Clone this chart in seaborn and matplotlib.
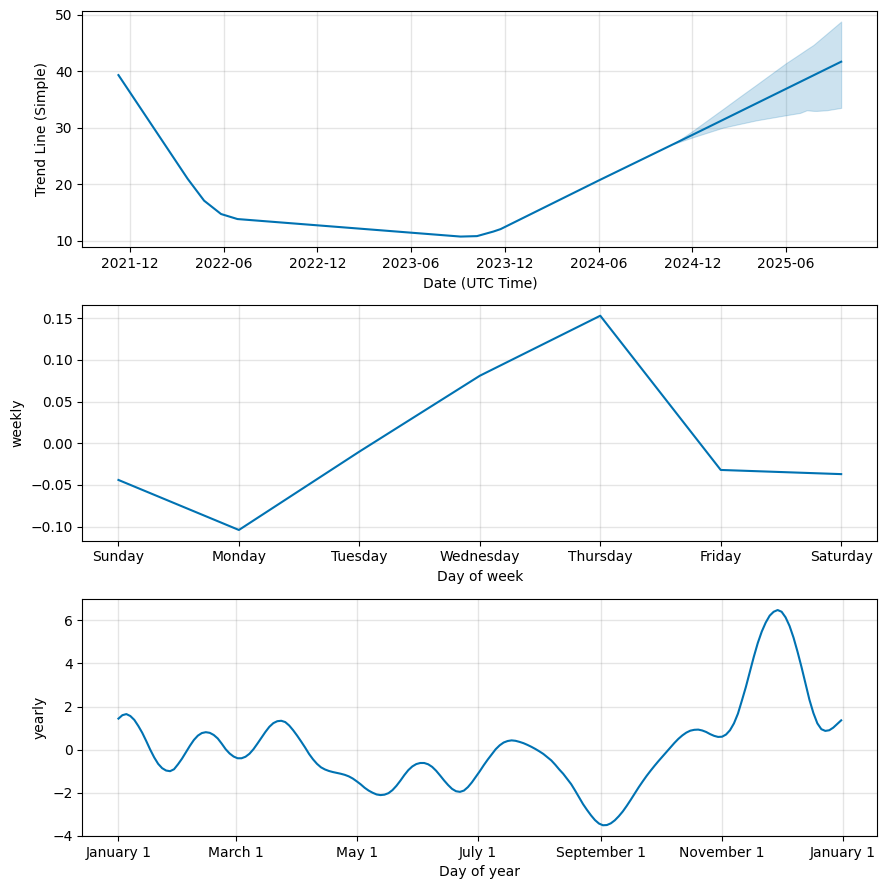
import numpy as np
import pandas as pd
import matplotlib
matplotlib.use("Agg")
import matplotlib.pyplot as plt
import matplotlib.dates as mdates
import seaborn as sns

LINE = "#0072B2"

# ---- Trend panel data ----
trend_dates = ["2021-11-08", "2022-03-23", "2022-04-24", "2022-05-27", "2022-06-28",
               "2023-09-06", "2023-10-08", "2023-11-09", "2023-11-23", "2024-06-01",
               "2024-12-01", "2025-09-17"]
trend_values = [39.33, 20.97, 17.11, 14.75, 13.86,
                10.76, 10.84, 11.65, 12.08, 20.67,
                28.75, 41.70]

band_dates = ["2024-10-25", "2024-12-01", "2025-01-30", "2025-03-04", "2025-04-05",
              "2025-06-01", "2025-06-29", "2025-07-12", "2025-07-25", "2025-07-31",
              "2025-08-20", "2025-09-17"]
band_upper = [27.15, 29.43, 33.36, 35.55, 37.64, 41.41, 43.10, 43.90, 44.67, 45.13, 46.66, 48.81]
band_lower = [27.15, 28.30, 30.04, 30.70, 31.33, 32.22, 32.64, 33.11, 33.00, 32.99, 33.11, 33.53]

# ---- Weekly panel data ----
week_days = ["Sunday", "Monday", "Tuesday", "Wednesday", "Thursday", "Friday", "Saturday"]
weekly_values = [-0.044, -0.104, -0.010, 0.081, 0.153, -0.032, -0.037]

# ---- Yearly panel data (sampled every 2 days from Jan 1) ----
yearly_day = list(range(0, 365, 2))
yearly_values = [
    1.44, 1.60, 1.65, 1.56, 1.38, 1.10, 0.78, 0.40, 0.00, -0.36,
    -0.66, -0.86, -0.97, -1.00, -0.91, -0.68, -0.42, -0.12, 0.18, 0.45,
    0.65, 0.77, 0.81, 0.78, 0.68, 0.52, 0.28, 0.02, -0.18, -0.32,
    -0.40, -0.40, -0.33, -0.19, 0.02, 0.28, 0.55, 0.82, 1.06, 1.23,
    1.32, 1.34, 1.28, 1.12, 0.90, 0.65, 0.38, 0.10, -0.20, -0.45,
    -0.66, -0.82, -0.92, -0.99, -1.04, -1.08, -1.12, -1.17, -1.24, -1.34,
    -1.47, -1.61, -1.77, -1.90, -2.00, -2.08, -2.11, -2.09, -2.02, -1.88,
    -1.68, -1.44, -1.18, -0.95, -0.78, -0.67, -0.62, -0.62, -0.68, -0.80,
    -0.98, -1.20, -1.43, -1.64, -1.82, -1.93, -1.96, -1.90, -1.74, -1.52,
    -1.26, -1.00, -0.72, -0.46, -0.22, 0.02, 0.20, 0.33, 0.40, 0.43,
    0.41, 0.36, 0.30, 0.22, 0.13, 0.03, -0.08, -0.20, -0.35, -0.50,
    -0.70, -0.92, -1.12, -1.36, -1.60, -1.90, -2.22, -2.53, -2.80, -3.05,
    -3.27, -3.43, -3.51, -3.50, -3.42, -3.28, -3.09, -2.87, -2.61, -2.33,
    -2.04, -1.75, -1.48, -1.22, -0.98, -0.75, -0.53, -0.32, -0.11, 0.10,
    0.31, 0.50, 0.66, 0.79, 0.88, 0.92, 0.93, 0.89, 0.82, 0.72,
    0.64, 0.59, 0.60, 0.70, 0.90, 1.22, 1.67, 2.28, 2.91, 3.62,
    4.31, 4.95, 5.48, 5.90, 6.22, 6.40, 6.48, 6.40, 6.14, 5.74,
    5.20, 4.55, 3.84, 3.07, 2.32, 1.70, 1.22, 0.95, 0.87, 0.90,
    1.02, 1.19, 1.36,
]
yearly_ticks = ["January 1", "March 1", "May 1", "July 1", "September 1", "November 1", "January 1"]

# ---- Build frames ----
trend_df = pd.DataFrame({"ds": pd.to_datetime(trend_dates), "trend": trend_values})
band_df = pd.DataFrame({"ds": pd.to_datetime(band_dates), "lo": band_lower, "hi": band_upper})
week_df = pd.DataFrame({"x": np.arange(len(week_days)), "weekly": weekly_values})
year_df = pd.DataFrame({"ds": pd.Timestamp("2017-01-01") + pd.to_timedelta(yearly_day, unit="D"),
                        "yearly": yearly_values})

fig = plt.figure(figsize=(8.86, 8.89), dpi=100)
left, width = 0.0929, 0.8973
ax1 = fig.add_axes([left, 0.7218, width, 0.2661])
ax2 = fig.add_axes([left, 0.3918, width, 0.2651])
ax3 = fig.add_axes([left, 0.0596, width, 0.2663])

def grid(ax):
    ax.grid(True, which="major", c="gray", ls="-", lw=1, alpha=0.2)
    ax.set_axisbelow(True)

# Trend
sns.lineplot(data=trend_df, x="ds", y="trend", ax=ax1, color=LINE, lw=1.5, legend=False)
ax1.fill_between(band_df["ds"], band_df["lo"], band_df["hi"], color=LINE, alpha=0.2, lw=0.8)
ax1.xaxis.set_major_locator(mdates.MonthLocator(bymonth=[6, 12]))
ax1.xaxis.set_major_formatter(mdates.DateFormatter("%Y-%m"))
ax1.set_xlabel("Date (UTC Time)")
ax1.set_ylabel("Trend Line (Simple)")
grid(ax1)

# Weekly
sns.lineplot(data=week_df, x="x", y="weekly", ax=ax2, color=LINE, lw=1.5, legend=False)
ax2.set_xticks(range(len(week_days)))
ax2.set_xticklabels(week_days)
ax2.set_xlabel("Day of week")
ax2.set_ylabel("weekly")
grid(ax2)

# Yearly
sns.lineplot(data=year_df, x="ds", y="yearly", ax=ax3, color=LINE, lw=1.5, legend=False)
tick_pos = pd.date_range("2017-01-01", periods=7, freq="2MS")
ax3.set_xticks(tick_pos)
ax3.set_xticklabels(yearly_ticks)
ax3.set_xlim(pd.Timestamp("2017-01-01") - pd.Timedelta(days=18.2),
             pd.Timestamp("2017-01-01") + pd.Timedelta(days=364 + 18.2))
ax3.set_xlabel("Day of year")
ax3.set_ylabel("yearly")
grid(ax3)

fig.savefig("out.png", dpi=100)
